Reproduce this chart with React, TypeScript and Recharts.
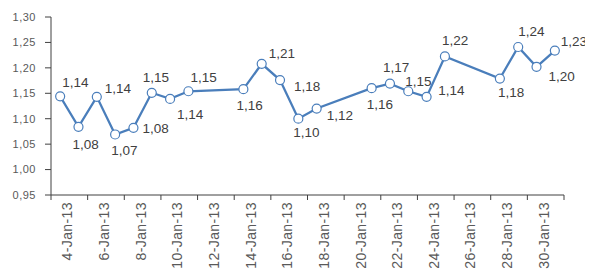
import React from "react";
import { LineChart, Line, XAxis, YAxis, LabelList } from "recharts";

const days = [4, 5, 6, 7, 8, 9, 10, 11, 14, 15, 16, 17, 18, 21, 22, 23, 24, 25, 28, 29, 30, 31];
const values = [
  1.144, 1.084, 1.143, 1.069, 1.082, 1.151, 1.139, 1.154, 1.158, 1.208, 1.176,
  1.1, 1.12, 1.16, 1.169, 1.154, 1.143, 1.2225, 1.179, 1.241, 1.202, 1.234,
];
const yTicks = [0.95, 1.0, 1.05, 1.1, 1.15, 1.2, 1.25, 1.3];
const xTickDays = [4, 6, 8, 10, 12, 14, 16, 18, 20, 22, 24, 26, 28, 30];
const monthLabel = "Jan-13";

// label placement (style): [left-edge dx, vertical-center dy] relative to point
const labelPlacement: [number, number][] = [
  [2, -14], [-6, 17], [8, -9], [-4, 16], [9, 0], [-9, -16], [7, 15], [2, -14],
  [-7, 16], [7, -10.5], [14, 6.5], [-5, 13], [10, 6.7], [-5, 16], [-7, -16],
  [-3, -10], [11.6, -7], [-3, -16.7], [-2, 13.7], [0, -15.6], [12, 9.4], [6, -9],
];

const data = days.map((d, i) => ({ day: d, value: values[i] }));
const tickMarks = [...xTickDays.map((d) => d - 0.5), 31.5];

const FONT = "'Liberation Sans', Arial, sans-serif";
const BLUE = "#4A7EBB";
const TEXT = "#595959";
const AXIS = "#404040";

const fmt = (v: number) => v.toFixed(2).replace(".", ",");

const XTick = (props: any) => {
  const { x, y, payload } = props;
  const v = payload.value as number;
  if (v > 31) return null;
  const label = `${v + 0.5}-${monthLabel}`;
  const cx = x + 16.5;
  return (
    <text
      x={cx}
      y={y}
      transform={`rotate(-90, ${cx}, ${y})`}
      textAnchor="end"
      dy="0.35em"
      fontSize={14}
      letterSpacing={0.4}
      fontFamily={FONT}
      fill={TEXT}
    >
      {label}
    </text>
  );
};

const PointLabel = (props: any) => {
  const { x, y, value, index } = props;
  const [dx, dy] = labelPlacement[index] || [0, 0];
  const fs = 13.5;
  return (
    <text
      x={x + dx}
      y={y + dy + fs * 0.36}
      textAnchor="start"
      fontSize={fs}
      fontFamily={FONT}
      fill="#404040"
    >
      {fmt(value)}
    </text>
  );
};

export default function App() {
  return (
    <div style={{ width: 585, height: 267 }}>
      <LineChart
        width={585}
        height={267}
        data={data}
        margin={{ top: 9, right: 29, bottom: 5, left: 0 }}
      >
        <XAxis
          dataKey="day"
          type="number"
          domain={[3.5, 31.5]}
          ticks={tickMarks}
          interval={0}
          height={75}
          tickSize={5}
          tickMargin={2}
          tick={<XTick />}
          axisLine={{ stroke: AXIS, strokeWidth: 1 }}
          tickLine={{ stroke: AXIS, strokeWidth: 1 }}
        />
        <YAxis
          type="number"
          domain={[0.95, 1.3]}
          ticks={yTicks}
          interval={0}
          width={43}
          tickSize={6}
          tickMargin={9}
          tickFormatter={fmt}
          tick={{ fontSize: 11, letterSpacing: 0.5, fontFamily: FONT, fill: TEXT }}
          axisLine={{ stroke: AXIS, strokeWidth: 1 }}
          tickLine={{ stroke: AXIS, strokeWidth: 1 }}
        />
        <Line
          type="linear"
          dataKey="value"
          stroke={BLUE}
          strokeWidth={2.25}
          isAnimationActive={false}
          dot={{ r: 4.5, fill: "#ffffff", stroke: BLUE, strokeWidth: 1.2 }}
          activeDot={false}
        >
          <LabelList dataKey="value" content={<PointLabel />} />
        </Line>
      </LineChart>
    </div>
  );
}
